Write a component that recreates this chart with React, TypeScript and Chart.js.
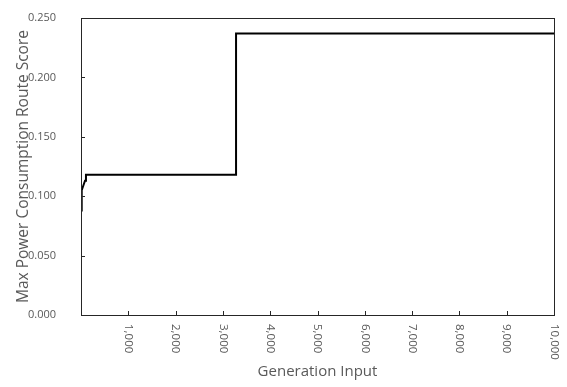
import { useEffect, useRef } from 'react';
import { Chart, registerables } from 'chart.js';

Chart.register(...registerables);

// Generation input (x) and max power consumption route score (y)
const generationInput = [0, 15, 50, 85, 105, 3278, 3278, 10000];
const maxScore = [0.088, 0.105, 0.109, 0.113, 0.118, 0.118, 0.237, 0.237];

const xTickValues = [1000, 2000, 3000, 4000, 5000, 6000, 7000, 8000, 9000, 10000];
const yTickValues = [0, 0.05, 0.1, 0.15, 0.2, 0.25];

const xTitle = 'Generation Input';
const yTitle = 'Max Power Consumption Route Score';

const FONT = '"Open Sans", sans-serif';
const TEXT_COLOR = '#595959';
const AXIS_COLOR = '#262626';

const framePlugin = {
  id: 'frame',
  afterDraw(chart: any) {
    const { ctx, chartArea } = chart;
    const xs = chart.scales.x;
    const ys = chart.scales.y;
    ctx.save();
    ctx.strokeStyle = AXIS_COLOR;
    ctx.lineWidth = 1;
    ctx.strokeRect(
      Math.round(chartArea.left) + 0.5,
      Math.round(chartArea.top) + 0.5,
      Math.round(chartArea.right - chartArea.left),
      Math.round(chartArea.bottom - chartArea.top)
    );
    // inward tick marks
    ctx.beginPath();
    xTickValues.forEach((v) => {
      const x = Math.round(xs.getPixelForValue(v)) + 0.5;
      ctx.moveTo(x, chartArea.bottom);
      ctx.lineTo(x, chartArea.bottom - 4);
    });
    yTickValues.forEach((v) => {
      const y = Math.round(ys.getPixelForValue(v)) + 0.5;
      ctx.moveTo(chartArea.left, y);
      ctx.lineTo(chartArea.left + 4, y);
    });
    ctx.stroke();
    // x tick labels, rotated clockwise
    ctx.fillStyle = TEXT_COLOR;
    ctx.font = `11.5px ${FONT}`;
    ctx.textAlign = 'left';
    ctx.textBaseline = 'middle';
    xTickValues.forEach((v) => {
      const x = xs.getPixelForValue(v);
      ctx.save();
      ctx.translate(x, chartArea.bottom + 9);
      ctx.rotate(Math.PI / 2);
      ctx.fillText(v.toLocaleString('en-US'), 0, 0);
      ctx.restore();
    });
    ctx.restore();
  },
};

export default function App() {
  const canvasRef = useRef<HTMLCanvasElement | null>(null);

  useEffect(() => {
    document.body.style.margin = '0';
    const canvas = canvasRef.current;
    if (!canvas) return;
    const chart = new Chart(canvas, {
      type: 'line',
      data: {
        datasets: [
          {
            data: generationInput.map((x, i) => ({ x, y: maxScore[i] })),
            borderColor: '#000000',
            borderWidth: 2,
            pointRadius: 0,
            tension: 0,
            fill: false,
          },
        ],
      },
      options: {
        responsive: false,
        animation: false,
        events: [],
        layout: { padding: { top: 18, right: 13, bottom: 0, left: 0 } },
        plugins: {
          legend: { display: false },
          tooltip: { enabled: false },
        },
        scales: {
          x: {
            type: 'linear',
            min: 0,
            max: 10000,
            afterFit: (scale: any) => {
              scale.height = 72;
            },
            grid: { display: false, drawTicks: false },
            border: { display: false },
            ticks: { display: false, stepSize: 1000 },
            title: {
              display: true,
              text: xTitle,
              color: TEXT_COLOR,
              font: { family: FONT, size: 15 },
              padding: { top: 0, bottom: 6 },
            },
          },
          y: {
            type: 'linear',
            min: 0,
            max: 0.25,
            afterFit: (scale: any) => {
              scale.width = 81;
            },
            grid: { display: false, drawTicks: true, tickLength: 25 },
            border: { display: false },
            ticks: {
              stepSize: 0.05,
              padding: 0,
              color: TEXT_COLOR,
              font: { family: FONT, size: 11 },
              callback: (v: any) => Number(v).toFixed(3),
            },
            title: {
              display: true,
              text: yTitle,
              color: TEXT_COLOR,
              font: { family: FONT, size: 15.5 },
              padding: { top: 14, bottom: 0 },
            },
          },
        },
      },
      plugins: [framePlugin],
    });
    return () => chart.destroy();
  }, []);

  return (
    <div style={{ width: 567, height: 387 }}>
      <canvas ref={canvasRef} width={567} height={387} />
    </div>
  );
}
